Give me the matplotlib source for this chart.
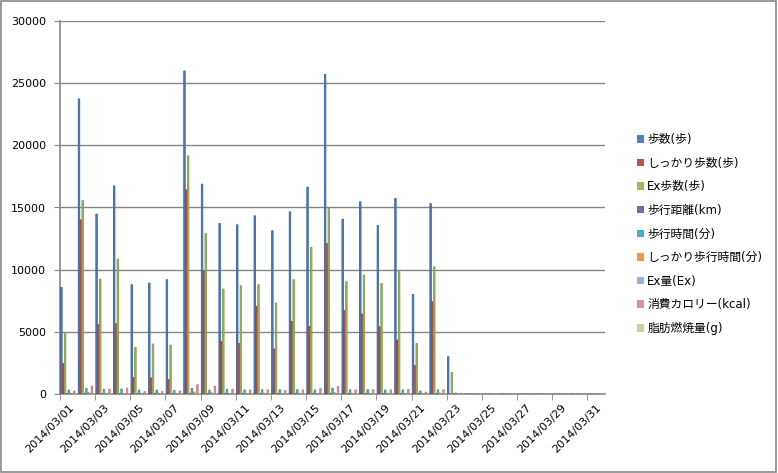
import matplotlib
matplotlib.use("Agg")
import matplotlib.pyplot as plt
import numpy as np
from matplotlib.patches import Patch, Rectangle

plt.rcParams["font.family"] = ["DejaVu Sans", "Noto Sans CJK JP"]  # 日本語は Noto で補う

# ---------- データ (2014/03/01 - 2014/03/31) ----------
dates = [f"2014/03/{d:02d}" for d in range(1, 32)]

steps      = [8570, 23730, 14470, 16740, 8790, 8920, 9190, 25980, 16880, 13720, 13610, 14330, 13130, 14650, 16640, 25700,
              14060, 15460, 13550, 15720, 8010, 15320, 3000, 0, 0, 0, 0, 0, 0, 0, 0]
firm_steps = [2450, 14000, 5570, 5650, 1340, 1290, 1150, 16420, 9860, 4230, 4050, 7050, 3620, 5840, 5440, 12100,
              6700, 6430, 5410, 4340, 2280, 7420, 0, 0, 0, 0, 0, 0, 0, 0, 0]
ex_steps   = [4950, 15560, 9240, 10850, 3750, 4020, 3940, 19150, 12910, 8440, 8710, 8790, 7310, 9190, 11790, 14950,
              9030, 9560, 8890, 9910, 4070, 10230, 1740, 0, 0, 0, 0, 0, 0, 0, 0]
distance   = [6, 17, 10, 12, 6, 6, 7, 18, 12, 10, 10, 10, 9, 10, 12, 18, 10, 11, 10, 11, 6, 11, 2, 0, 0, 0, 0, 0, 0, 0, 0]
walk_min   = [320, 455, 375, 400, 320, 320, 295, 455, 320, 375, 330, 350, 350, 350, 330, 470,
              330, 350, 320, 330, 250, 330, 80, 0, 0, 0, 0, 0, 0, 0, 0]
firm_min   = [25, 140, 55, 55, 15, 15, 12, 165, 100, 42, 40, 70, 36, 58, 54, 120,
              67, 64, 54, 43, 23, 74, 0, 0, 0, 0, 0, 0, 0, 0, 0]
ex_amount  = [1, 5, 3, 3, 1, 1, 1, 6, 4, 3, 3, 3, 2, 3, 4, 5, 3, 3, 3, 3, 1, 3, 0, 0, 0, 0, 0, 0, 0, 0, 0]
kcal       = [240, 640, 400, 480, 190, 190, 240, 750, 615, 375, 320, 330, 300, 330, 430, 600,
              330, 350, 330, 370, 150, 340, 60, 0, 0, 0, 0, 0, 0, 0, 0]
fat_g      = [20, 55, 35, 40, 15, 15, 20, 65, 50, 30, 27, 28, 25, 28, 36, 50,
              28, 30, 27, 31, 12, 29, 5, 0, 0, 0, 0, 0, 0, 0, 0]

labels = ["歩数(歩)", "しっかり歩数(歩)", "Ex歩数(歩)", "歩行距離(km)", "歩行時間(分)",
          "しっかり歩行時間(分)", "Ex量(Ex)", "消費カロリー(kcal)", "脂肪燃焼量(g)"]
series = [steps, firm_steps, ex_steps, distance, walk_min, firm_min, ex_amount, kcal, fat_g]
colors = ["#4F81BD", "#C0504D", "#9BBB59", "#8064A2", "#4BACC6",
          "#F79646", "#95B3D7", "#D99694", "#C3D69B"]
# 棒の縁取り(Excelのグラデーション風に少し暗く)
edges = ["#3A64A0", "#A03F3C", "#7F9E45", "#664E87", "#3A91A8",
         "#D67B30", "#7A98BF", "#C07C7A", "#A9BD82"]

# ---------- 描画 ----------
fig = plt.figure(figsize=(7.78, 4.73), dpi=100)
ax = fig.add_axes([60 / 778, 1 - 394 / 473, 545 / 778, 373 / 473])

x = np.arange(len(dates))
w = 0.105
for i, (vals, col, ec) in enumerate(zip(series, colors, edges)):
    ax.bar(x + (i - 4) * w, vals, width=w * 0.8, color=col, edgecolor=ec,
           linewidth=0.6, snap=False, zorder=3)

ax.set_xlim(-0.5, len(dates) - 0.5)
ax.set_ylim(0, 30000)
ax.set_yticks(range(0, 30001, 5000))
ax.yaxis.grid(True, color="#868686", linewidth=1, zorder=0)

# x軸: ラベルは2日おき、目盛り線は区切り位置
ax.set_xticks(x[::2])
ax.set_xticklabels(dates[::2], rotation=45, ha="right", rotation_mode="anchor")
ax.set_xticks(np.arange(-0.5, len(dates), 2), minor=True)
ax.tick_params(axis="x", which="major", length=0, pad=6, labelsize=8)
ax.tick_params(axis="x", which="minor", length=4, color="#868686")
ax.tick_params(axis="y", length=4, color="#868686", labelsize=8, pad=6)

for s in ["top", "right"]:
    ax.spines[s].set_visible(False)
for s in ["left", "bottom"]:
    ax.spines[s].set_color("#868686")
    ax.spines[s].set_linewidth(1.2)

handles = [Patch(facecolor=c, edgecolor="none") for c in colors]
fig.legend(handles, labels, loc="center left", bbox_to_anchor=(626 / 778, 1 - 234 / 473),
           frameon=False, fontsize=8.5, handlelength=0.6, handleheight=0.6,
           handletextpad=0.3, labelspacing=0.9)

# 外枠
fig.add_artist(Rectangle((0.001, 0.002), 0.997, 0.996, transform=fig.transFigure,
                         fill=False, edgecolor="#888888", linewidth=1.2))

fig.savefig("out.png", dpi=100)
